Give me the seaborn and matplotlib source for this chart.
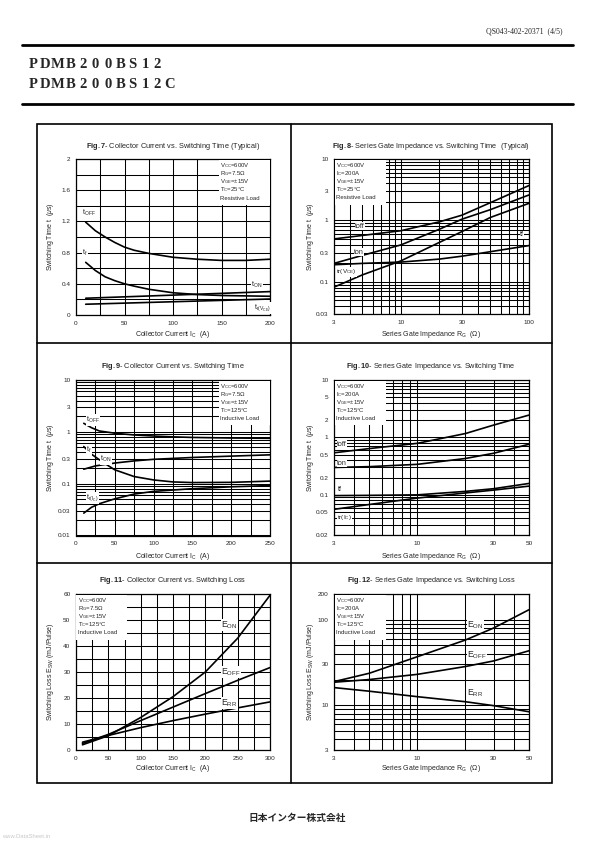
import matplotlib
matplotlib.use("Agg")
import matplotlib.pyplot as plt
import seaborn as sns
import pandas as pd
import numpy as np
from matplotlib.ticker import FixedLocator, FuncFormatter
from matplotlib.patches import Rectangle
from matplotlib.lines import Line2D

# ---- Fig.7 collector current vs switching time (typical, resistive) ----
f7_ic_off = [10, 20, 30, 40, 50, 60, 75, 100, 125, 150, 175, 200]
f7_toff = [1.19, 1.08, 1.00, 0.93, 0.87, 0.83, 0.79, 0.74, 0.715, 0.70, 0.70, 0.715]
f7_tf = [0.675, 0.57, 0.49, 0.44, 0.40, 0.37, 0.33, 0.285, 0.262, 0.25, 0.245, 0.24]
f7_ic_on = [10, 100, 200]
f7_ton = [0.215, 0.255, 0.30]
f7_tr = [0.138, 0.17, 0.205]

# ---- Fig.8 gate impedance vs switching time (typical, resistive) ----
f8_rg = [3, 5, 10, 20, 30, 50, 100]
f8_toff = [0.50, 0.57, 0.68, 0.95, 1.22, 1.95, 3.7]
f8_ton = [0.20, 0.27, 0.40, 0.72, 1.05, 1.5, 2.6]
f8_tr = [0.082, 0.13, 0.22, 0.44, 0.66, 1.12, 1.9]
f8_tf = [0.19, 0.20, 0.21, 0.235, 0.262, 0.31, 0.39]

# ---- Fig.9 collector current vs switching time (inductive) ----
f9_ic_off = [10, 20, 30, 50, 75, 100, 125, 150, 200, 250]
f9_toff = [1.46, 1.2, 1.04, 0.94, 0.87, 0.83, 0.80, 0.78, 0.76, 0.75]
f9_ic_f = [10, 20, 30, 40, 50, 75, 100, 125, 150, 200, 250]
f9_tf = [0.52, 0.37, 0.29, 0.23, 0.185, 0.137, 0.118, 0.108, 0.105, 0.106, 0.112]
f9_ic_on = [10, 25, 50, 75, 100, 150, 200, 250]
f9_ton = [0.19, 0.22, 0.25, 0.275, 0.295, 0.32, 0.34, 0.36]
f9_ic_r = [10, 20, 30, 50, 75, 100, 150, 200, 250]
f9_tr = [0.027, 0.035, 0.041, 0.051, 0.063, 0.071, 0.080, 0.087, 0.092]

# ---- Fig.10 gate impedance vs switching time (inductive) ----
f10_rg = [3, 5, 10, 20, 30, 50]
f10_toff = [0.54, 0.64, 0.79, 1.17, 1.64, 2.45]
f10_ton = [0.30, 0.31, 0.34, 0.43, 0.53, 0.76]
f10_tf = [0.097, 0.098, 0.10, 0.115, 0.128, 0.158]
f10_tr = [0.056, 0.068, 0.088, 0.108, 0.121, 0.142]

# ---- Fig.11 collector current vs switching loss ----
f11_ic = [10, 50, 100, 150, 200, 250, 300]
f11_eon = [2.0, 5.5, 12.5, 20.5, 30.0, 43.0, 59.5]
f11_eoff = [2.5, 6.0, 11.3, 16.5, 21.7, 26.8, 31.7]
f11_err = [3.0, 5.6, 8.6, 11.3, 13.8, 16.2, 18.5]

# ---- Fig.12 gate impedance vs switching loss ----
f12_rg = [3, 5, 10, 20, 30, 50]
f12_eon = [18.9, 23.7, 37, 58, 80, 131]
f12_eoff = [18.6, 20, 23, 28.4, 33, 43.4]
f12_err = [16.1, 14.6, 12.6, 11.0, 9.9, 8.4]

sns.set_style("white")
plt.rcParams['font.family'] = ['Liberation Sans', 'DejaVu Sans']
plt.rcParams['mathtext.fontset'] = 'custom'
plt.rcParams['mathtext.rm'] = 'Liberation Sans'
plt.rcParams['mathtext.it'] = 'Liberation Sans:italic'
plt.rcParams['mathtext.bf'] = 'Liberation Sans:bold'

W, H = 595, 842
fig = plt.figure(figsize=(5.95, 8.42), dpi=100)


def rect(l, t, r, b):
    return [l / W, 1 - b / H, (r - l) / W, (b - t) / H]


def ftext(x, y, s, **kw):
    fig.text(x / W, 1 - y / H, s, **kw)


def hline(x0, x1, y, lw=1.5):
    fig.add_artist(Line2D([x0 / W, x1 / W], [1 - y / H, 1 - y / H], color='k', lw=lw,
                          transform=fig.transFigure))


def decades(lo, hi):
    vals = []
    for e in range(-3, 4):
        for m in range(1, 10):
            v = round(m * 10.0 ** e, 6)
            if lo - 1e-9 <= v <= hi + 1e-9:
                vals.append(v)
    return vals


fmt = FuncFormatter(lambda v, p: '%g' % v)


def style(ax, xlim, ylim, xmaj, ymaj, xgrid, ygrid, logx=False, logy=False):
    if logx:
        ax.set_xscale('log')
    if logy:
        ax.set_yscale('log')
    ax.set_xlim(*xlim)
    ax.set_ylim(*ylim)
    ax.xaxis.set_major_locator(FixedLocator(xmaj))
    ax.yaxis.set_major_locator(FixedLocator(ymaj))
    ax.xaxis.set_minor_locator(FixedLocator(xgrid))
    ax.yaxis.set_minor_locator(FixedLocator(ygrid))
    ax.xaxis.set_major_formatter(fmt)
    ax.yaxis.set_major_formatter(fmt)
    ax.xaxis.set_minor_formatter(FuncFormatter(lambda v, p: ''))
    ax.yaxis.set_minor_formatter(FuncFormatter(lambda v, p: ''))
    ax.grid(True, which='both', color='k', lw=0.75)
    ax.set_axisbelow(True)
    ax.tick_params(which='both', length=0, labelsize=4.6, pad=4)
    for s in ax.spines.values():
        s.set_color('k')
        s.set_linewidth(0.9)
    ax.set_xlabel('')
    ax.set_ylabel('')


def curves(ax, pairs):
    for xs, ys in pairs:
        sns.lineplot(x=xs, y=ys, ax=ax, color='k', lw=1.2)


def cond_box(x0, y0, lines, w=51, dy=8.0, size=4.3):
    # white patch hiding the grid, then one text line per condition
    y1 = y0 + 5 + dy * len(lines)
    fig.add_artist(Rectangle((x0 / W, 1 - y1 / H), w / W, (y1 - y0) / H,
                             fc='white', ec='none', zorder=3, transform=fig.transFigure))
    for i, s in enumerate(lines):
        fig.text((x0 + 2) / W, 1 - (y0 + 6 + i * dy) / H, s, fontsize=size,
                 ha='left', va='center', zorder=4)


def clabel(x, y, s, size=5.2):
    ftext(x, y, s, fontsize=size, ha='left', va='center', zorder=6,
          bbox=dict(fc='white', ec='none', pad=0.3))


VCC = r"V$_{\mathrm{CC}}$=600V"
RG = r"R$_{\mathrm{G}}$=7.5$\Omega$"
IC = r"I$_{\mathrm{C}}$=200A"
VGE = r"V$_{\mathrm{GE}}$=$\pm$15V"
TC25 = r"T$_{\mathrm{C}}$=25°C"
TC125 = r"T$_{\mathrm{C}}$=125°C"
XL_IC = r"Collector Current I$_{\mathrm{C}}$  (A)"
XL_RG = r"Series Gate Impedance R$_{\mathrm{G}}$  ($\Omega$)"
YL_T = r"Switching Time t  ($\mu$s)"
YL_E = r"Switching Loss E$_{\mathrm{SW}}$ (mJ/Pulse)"

# ---------- Fig.7 ----------
ax7 = fig.add_axes(rect(76, 159, 270, 315))
curves(ax7, [(f7_ic_off, f7_toff), (f7_ic_off, f7_tf), (f7_ic_on, f7_ton), (f7_ic_on, f7_tr)])
style(ax7, (0, 200), (0, 2), [0, 50, 100, 150, 200], [0, 0.4, 0.8, 1.2, 1.6, 2],
      list(range(0, 201, 25)), list(np.arange(0, 2.01, 0.2)))
cond_box(218.5, 160, [VCC, RG, VGE, TC25, "Resistive Load"])
clabel(82, 213, r"t$_{\mathrm{OFF}}$")
clabel(82, 253, r"t$_{\mathrm{f}}$")
clabel(251, 285, r"t$_{\mathrm{ON}}$")
clabel(254, 308, r"t$_{\mathrm{r(V_{CE})}}$")

# ---------- Fig.8 ----------
ax8 = fig.add_axes(rect(334, 159, 529, 314))
curves(ax8, [(f8_rg, f8_toff), (f8_rg, f8_ton), (f8_rg, f8_tr), (f8_rg, f8_tf)])
style(ax8, (3, 100), (0.03, 10), [3, 10, 30, 100], [0.03, 0.1, 0.3, 1, 3, 10],
      decades(3, 100), decades(0.03, 10), logx=True, logy=True)
cond_box(334.5, 159.5, [VCC, IC, VGE, TC25, "Resistive Load"])
clabel(355, 226, "toff", 5.0)
clabel(354, 252, "ton", 5.0)
clabel(336, 272, r"tr(V$_{\mathrm{CE}}$)", 4.6)
clabel(520, 235, "tf", 5.0)

# ---------- Fig.9 ----------
ax9 = fig.add_axes(rect(76, 380, 270, 535.5))
curves(ax9, [(f9_ic_off, f9_toff), (f9_ic_f, f9_tf), (f9_ic_on, f9_ton), (f9_ic_r, f9_tr)])
style(ax9, (0, 250), (0.01, 10), [0, 50, 100, 150, 200, 250], [0.01, 0.03, 0.1, 0.3, 1, 3, 10],
      list(range(0, 251, 25)), decades(0.01, 10), logy=True)
cond_box(218.5, 380.5, [VCC, RG, VGE, TC125, "Inductive Load"])
clabel(86, 420, r"t$_{\mathrm{OFF}}$")
clabel(86, 450, r"t$_{\mathrm{f}}$")
clabel(100, 459, r"t$_{\mathrm{ON}}$")
clabel(86, 498, r"t$_{\mathrm{r(I_{C})}}$")

# ---------- Fig.10 ----------
ax10 = fig.add_axes(rect(334, 380, 529, 535))
curves(ax10, [(f10_rg, f10_toff), (f10_rg, f10_ton), (f10_rg, f10_tf), (f10_rg, f10_tr)])
style(ax10, (3, 50), (0.02, 10), [3, 10, 30, 50], [0.02, 0.05, 0.1, 0.2, 0.5, 1, 2, 5, 10],
      decades(3, 50), decades(0.02, 10), logx=True, logy=True)
cond_box(334.5, 380.5, [VCC, IC, VGE, TC125, "Inductive Load"])
clabel(337, 444, "toff", 5.0)
clabel(337, 463, "ton", 5.0)
clabel(338, 489, "tf", 5.0)
clabel(337, 518, r"tr(I$_{\mathrm{C}}$)", 4.6)

# ---------- Fig.11 ----------
ax11 = fig.add_axes(rect(76, 594, 270, 750))
curves(ax11, [(f11_ic, f11_eon), (f11_ic, f11_eoff), (f11_ic, f11_err)])
style(ax11, (0, 300), (0, 60), [0, 50, 100, 150, 200, 250, 300], [0, 10, 20, 30, 40, 50, 60],
      list(range(0, 301, 25)), list(range(0, 61, 5)))
cond_box(76.5, 594.5, [VCC, RG, VGE, TC125, "Inductive Load"])
clabel(221, 625, r"E$_{\mathrm{ON}}$", 6.2)
clabel(221, 672, r"E$_{\mathrm{OFF}}$", 6.2)
clabel(221, 703, r"E$_{\mathrm{RR}}$", 6.2)

# ---------- Fig.12 ----------
ax12 = fig.add_axes(rect(334, 594, 529, 750))
curves(ax12, [(f12_rg, f12_eon), (f12_rg, f12_eoff), (f12_rg, f12_err)])
style(ax12, (3, 50), (3, 200), [3, 10, 30, 50], [3, 10, 30, 100, 200],
      decades(3, 50), decades(3, 200), logx=True, logy=True)
cond_box(334.5, 594.5, [VCC, IC, VGE, TC125, "Inductive Load"])
clabel(467, 625, r"E$_{\mathrm{ON}}$", 6.2)
clabel(467, 655, r"E$_{\mathrm{OFF}}$", 6.2)
clabel(467, 693, r"E$_{\mathrm{RR}}$", 6.2)

# ---------- titles and axis labels ----------
titles = [
    (173, 146, r"$\mathbf{Fig.7}$- Collector Current vs. Switching Time (Typical)"),
    (431, 146, r"$\mathbf{Fig.8}$- Series Gate Impedance vs. Switching Time  (Typical)"),
    (173, 366, r"$\mathbf{Fig.9}$- Collector Current vs. Switching Time"),
    (431, 366, r"$\mathbf{Fig.10}$- Series Gate Impedance vs. Switching Time"),
    (173, 581, r"$\mathbf{Fig.11}$- Collector Current vs. Switching Loss"),
    (431, 581, r"$\mathbf{Fig.12}$- Series Gate Impedance vs. Switching Loss"),
]
for x, y, s in titles:
    ftext(x, y, s, fontsize=5.3, ha='center', va='center')

for x, y, s in [(173, 334, XL_IC), (431, 334, XL_RG), (173, 556, XL_IC),
                (431, 556, XL_RG), (173, 769, XL_IC), (431, 769, XL_RG)]:
    ftext(x, y, s, fontsize=5.0, ha='center', va='center')

for x, y, s in [(50, 237, YL_T), (310, 237, YL_T), (50, 458, YL_T),
                (310, 458, YL_T), (50, 672, YL_E), (310, 672, YL_E)]:
    ftext(x, y, s, fontsize=5.0, ha='center', va='center', rotation=90)

# ---------- page frame ----------
fig.add_artist(Rectangle((36.5 / W, 1 - 783 / H), (552 - 36.5) / W, (783 - 123.5) / H,
                         fill=False, ec='k', lw=1.2, transform=fig.transFigure))
fig.add_artist(Line2D([291 / W, 291 / W], [1 - 123.5 / H, 1 - 783 / H], color='k', lw=1.2,
                      transform=fig.transFigure))
hline(36.5, 552, 343, 1.2)
hline(36.5, 552, 563, 1.2)

# ---------- header ----------
ftext(563, 31, "QS043-402-20371  (4/5)", fontsize=5.6, ha='right', va='center',
      family=['Liberation Serif', 'DejaVu Serif'])
hline(22, 573, 45, 2.0)
hline(22, 573, 104, 2.0)
for row, word in [(64, "PDMB200BS12"), (85, "PDMB200BS12C")]:
    for i, ch in enumerate(word):
        ftext(33 + i * 12.45, row, ch, fontsize=10.5, fontweight='bold', ha='center', va='center',
              family=['Liberation Serif', 'DejaVu Serif'])

# ---------- footer ----------
ftext(297, 818, "日本インター株式会社", fontsize=7.0, fontweight='bold', ha='center', va='center',
      family=['Noto Sans CJK JP', 'DejaVu Sans'])
ftext(2, 836, "www.DataSheet.in", fontsize=4.2, color='#c8c8c8', ha='left', va='center')

fig.savefig("out.png", dpi=100)
